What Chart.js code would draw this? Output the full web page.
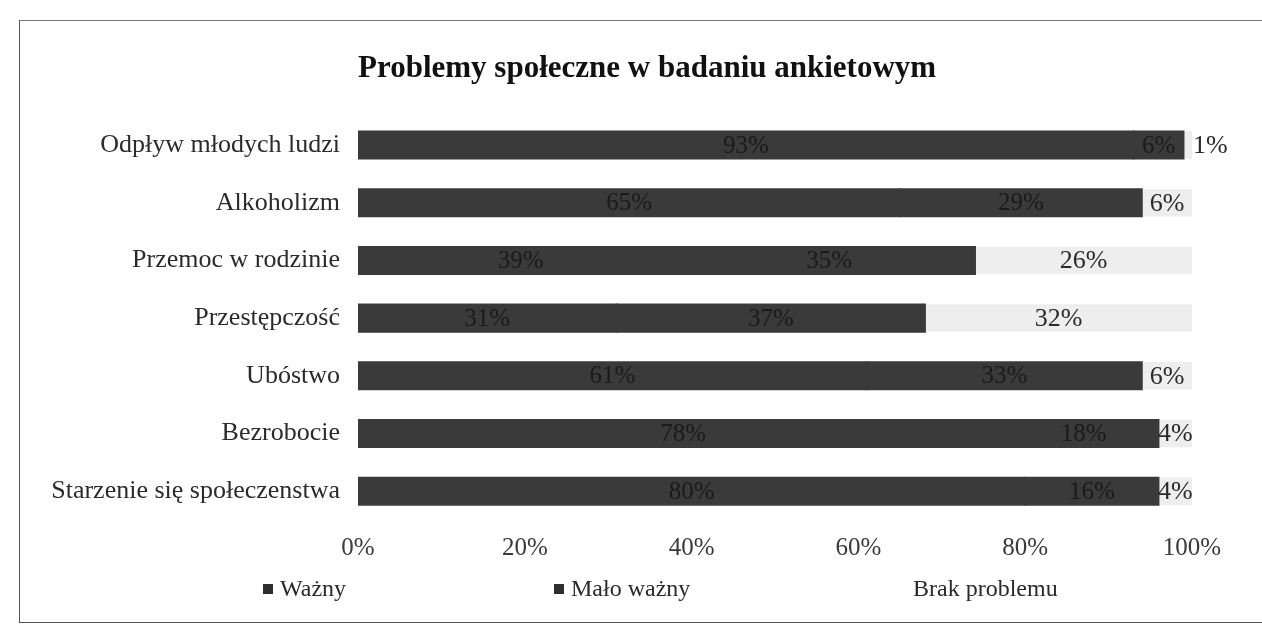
<!DOCTYPE html>
<html>
<head>
<meta charset="utf-8">
<script src="https://cdn.jsdelivr.net/npm/chart.js@4/dist/chart.umd.min.js"></script>
<style>
  html, body { margin: 0; padding: 0; background: #ffffff; }
  #wrap { position: relative; width: 1262px; height: 635px; }
  #frame { position: absolute; left: 19px; top: 20px; width: 1250px; height: 601px;
           border-left: 1.5px solid #555; border-top: 1.5px solid #777; border-bottom: 1.5px solid #555; }
  canvas { position: absolute; left: 0; top: 0; }
</style>
</head>
<body>
<div id="wrap">
  <div id="frame"></div>
  <canvas id="c" width="1262" height="635"></canvas>
</div>
<script>
const categories = [
  "Odpływ młodych ludzi",
  "Alkoholizm",
  "Przemoc w rodzinie",
  "Przestępczość",
  "Ubóstwo",
  "Bezrobocie",
  "Starzenie się społeczenstwa"
];
const wazny        = [93, 65, 39, 31, 61, 78, 80];
const maloWazny    = [6, 29, 35, 37, 33, 18, 16];
const brakProblemu = [1, 6, 26, 32, 6, 4, 4];
const xTicks = [0, 20, 40, 60, 80, 100];
const seriesNames = ["Ważny", "Mało ważny", "Brak problemu"];

const FONT = "'Liberation Serif', 'Times New Roman', serif";

const dataLabels = {
  id: 'dataLabels',
  afterDatasetsDraw(chart) {
    const ctx = chart.ctx;
    ctx.save();
    ctx.textBaseline = 'middle';
    chart.data.datasets.forEach((ds, di) => {
      const meta = chart.getDatasetMeta(di);
      meta.data.forEach((el, i) => {
        const v = ds.data[i];
        const w = Math.abs(el.x - el.base);
        ctx.font = (di === 2 ? '26px ' : '25px ') + FONT;
        ctx.fillStyle = di === 2 ? '#2a2a2a' : '#1a1a1a';
        if (w < 15) {
          ctx.textAlign = 'left';
          ctx.fillText(v + '%', Math.max(el.x, el.base) + 1, el.y + 1);
        } else {
          ctx.textAlign = 'center';
          ctx.fillText(v + '%', (el.x + el.base) / 2, el.y + 1);
        }
      });
    });
    ctx.restore();
  }
};

const spacedLegend = {
  id: 'spacedLegend',
  afterDraw(chart, args, opts) {
    const ctx = chart.ctx;
    ctx.save();
    ctx.textBaseline = 'middle';
    ctx.textAlign = 'left';
    ctx.font = '24px ' + FONT;
    chart.data.datasets.forEach((ds, i) => {
      const x = opts.x[i], y = opts.y;
      if (opts.markers[i]) {
        ctx.fillStyle = '#2e2e2e';
        ctx.fillRect(x, y - 6, 10, 10);
      }
      ctx.fillStyle = '#2a2a2a';
      ctx.fillText(ds.label, x + 17, y);
    });
    ctx.restore();
  }
};

new Chart(document.getElementById('c'), {
  type: 'bar',
  data: {
    labels: categories,
    datasets: [
      { label: seriesNames[0], data: wazny, backgroundColor: '#3a3a3a', inflateAmount: 0.8 },
      { label: seriesNames[1], data: maloWazny, backgroundColor: '#3a3a3a', inflateAmount: 0.8 },
      { label: seriesNames[2], data: brakProblemu, backgroundColor: '#eeeeee' }
    ]
  },
  options: {
    indexAxis: 'y',
    responsive: false,
    animation: false,
    events: [],
    categoryPercentage: 0.7,
    barPercentage: 0.68,
    layout: { padding: { left: 20, right: 70, top: 50, bottom: 59 } },
    scales: {
      x: {
        stacked: true,
        min: 0, max: 100,
        afterBuildTicks(scale) { scale.ticks = xTicks.map(v => ({ value: v })); },
        grid: { display: false, drawTicks: false },
        border: { display: false },
        ticks: {
          padding: 13,
          color: '#3a3a3a',
          font: { family: FONT, size: 25 },
          callback: v => v + '%'
        }
      },
      y: {
        stacked: true,
        grid: { display: false, drawTicks: false },
        border: { display: false },
        afterFit(scale) { scale.width = 338; },
        ticks: {
          padding: 18,
          color: '#2b2b2b',
          font: { family: FONT, size: 26 }
        }
      }
    },
    plugins: {
      legend: { display: false },
      tooltip: { enabled: false },
      title: {
        display: true,
        fullSize: false,
        align: 'start',
        text: 'Problemy społeczne w badaniu ankietowym',
        color: '#111',
        font: { family: FONT, size: 31, weight: 'bold' },
        padding: { top: 0, bottom: 29 }
      },
      spacedLegend: { x: [263, 554, 896], y: 590, markers: [true, true, false] }
    }
  },
  plugins: [dataLabels, spacedLegend]
});
</script>
</body>
</html>
